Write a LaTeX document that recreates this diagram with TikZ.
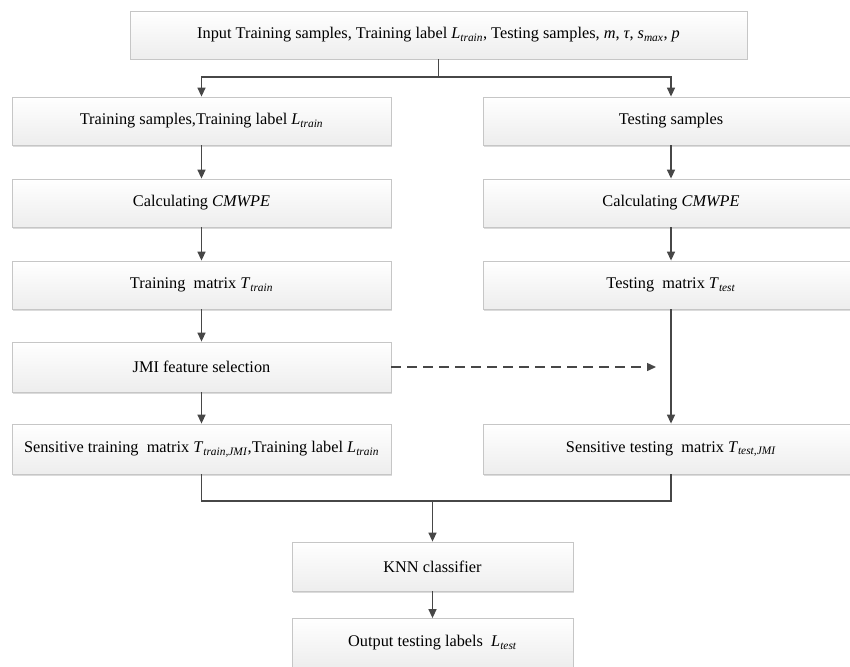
\documentclass[tikz,border=0pt]{standalone}
\usepackage{fontspec}
\setmainfont{Liberation Serif}
\usetikzlibrary{arrows.meta,shadows}
\newcommand{\vsub}[2]{\textit{#1}\textsubscript{\textit{#2}}}
\begin{document}
\begin{tikzpicture}[x=1pt,y=-1pt,
  box/.style={draw=gray!45, line width=0.8pt, top color=white, bottom color=gray!14,
    minimum height=48pt, inner sep=0pt, font=\fontsize{16.3}{19}\selectfont,
    drop shadow={shadow xshift=1.2pt, shadow yshift=-1.5pt, fill=gray!35, opacity=0.8}},
  lbox/.style={box, minimum width=379pt},
  rbox/.style={box, minimum width=376pt},
  cbox/.style={box, minimum width=281pt},
  conn/.style={draw=black!72, line width=1.4pt},
  arr/.style={conn, -{Triangle[length=9pt,width=8pt]}},
  darr/.style={arr, dash pattern=on 10pt off 6pt}
]
\useasboundingbox (0,0) rectangle (850,666);
\begin{scope}
\clip (0,0) rectangle (850,666);
\node[box, minimum width=617pt, minimum height=48pt] (top) at (438.5,35)
  {Input Training samples, Training label \vsub{L}{train}, Testing samples, \textit{m}, \textit{τ}, \vsub{s}{max}, \textit{p}};
\node[lbox] (L1) at (201.5,121) {Training samples,Training label \vsub{L}{train}};
\node[rbox] (R1) at (671,121) {Testing samples};
\node[lbox] (L2) at (201.5,203) {Calculating \textit{CMWPE}};
\node[rbox] (R2) at (671,203) {Calculating \textit{CMWPE}};
\node[lbox] (L3) at (201.5,285) {Training\ \ matrix \vsub{T}{train}};
\node[rbox] (R3) at (671,285) {Testing\ \ matrix \vsub{T}{test}};
\node[lbox, minimum height=50pt] (J) at (201.5,367) {JMI feature selection};
\node[lbox, minimum height=50pt] (L5) at (201.5,449) {Sensitive training\ \ matrix \vsub{T}{train,JMI},Training label \vsub{L}{train}};
\node[rbox, minimum height=50pt] (R5) at (671,449) {Sensitive testing\ \ matrix \vsub{T}{test,JMI}};
\node[cbox, minimum height=49pt] (K) at (432.5,566.5) {KNN classifier};
\node[cbox, minimum height=49pt] (O) at (432.5,643) {Output testing labels\ \ \vsub{L}{test}};
\end{scope}
\coordinate (s1) at (438.5,77);
\coordinate (m1) at (432.5,501);
\coordinate (dend) at (656,367);
\draw[conn] (top.south) -- (s1);
\draw[arr] (s1) -| (L1.north);
\draw[arr] (s1) -| (R1.north);
\draw[arr] (L1) -- (L2);
\draw[arr] (L2) -- (L3);
\draw[arr] (L3) -- (J);
\draw[arr] (J) -- (L5);
\draw[arr] (R1) -- (R2);
\draw[arr] (R2) -- (R3);
\draw[arr] (R3) -- (R5);
\draw[darr] (J.east) -- (dend);
\draw[conn] (L5.south) |- (m1) -| (R5.south);
\draw[arr] (m1) -- (K.north);
\draw[arr] (K) -- (O);
\end{tikzpicture}
\end{document}
